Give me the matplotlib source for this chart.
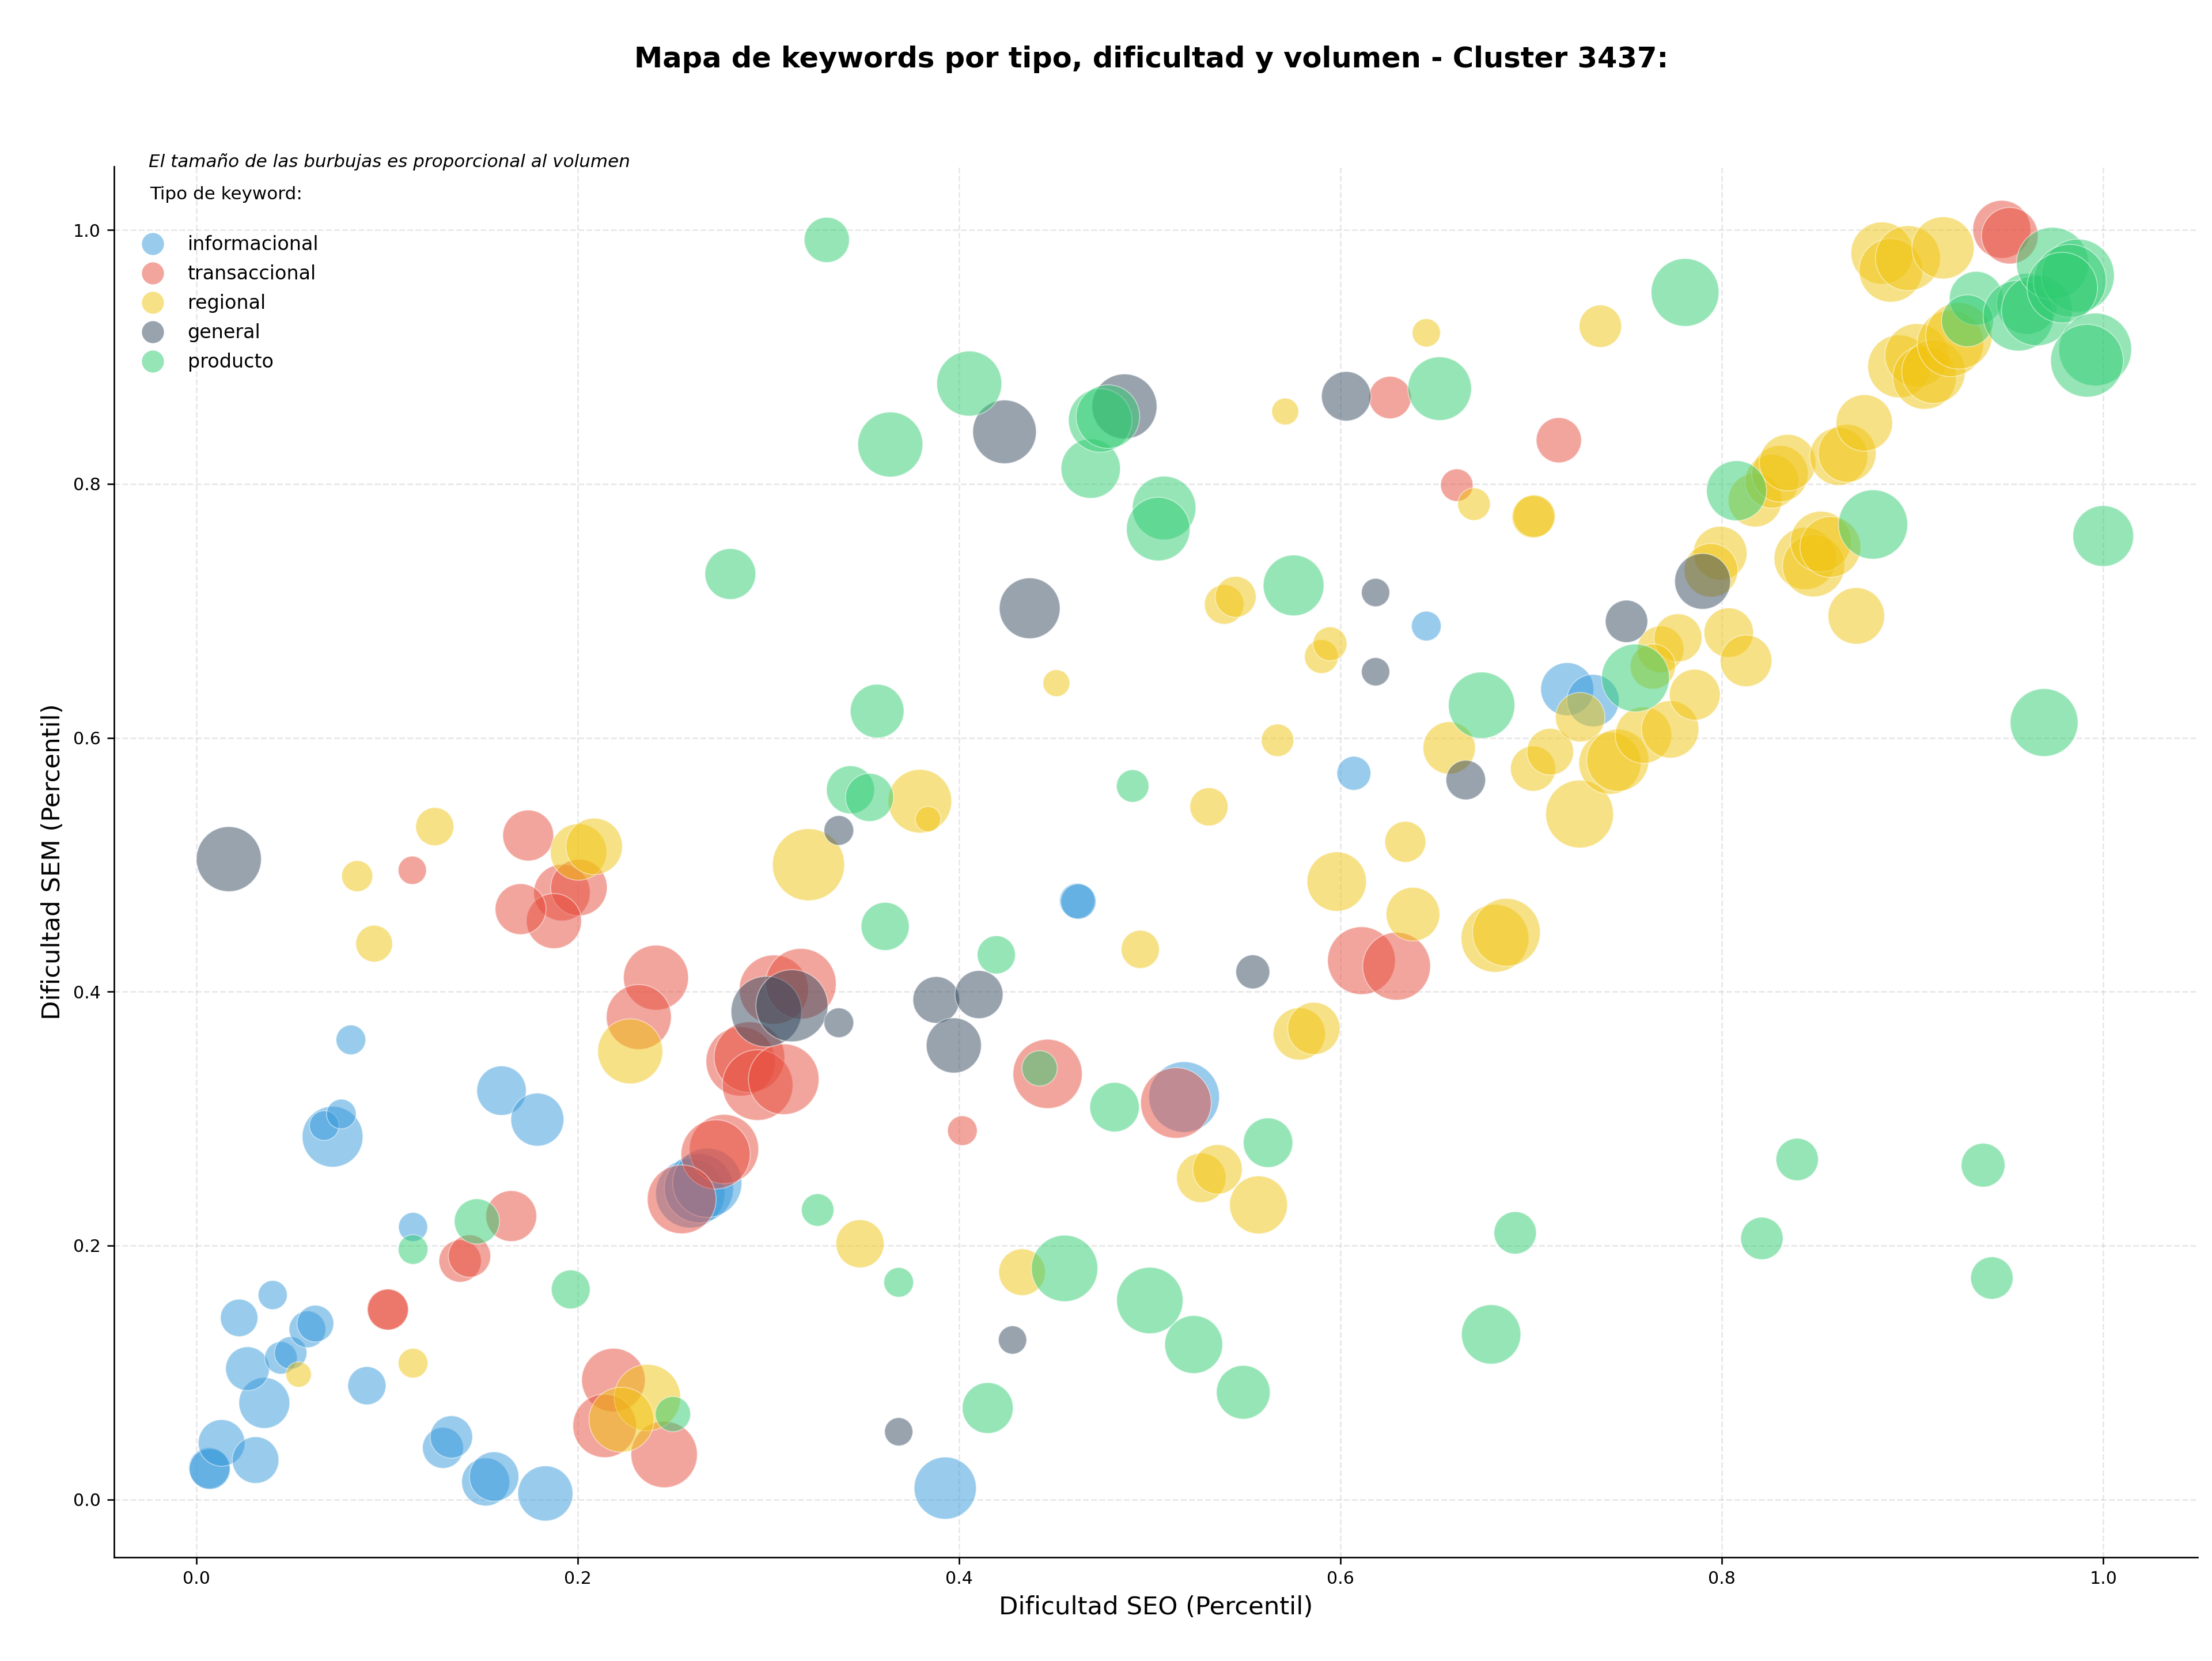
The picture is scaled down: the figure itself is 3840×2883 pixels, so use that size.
"""Mapa de burbujas de keywords por tipo, dificultad y volumen."""

import matplotlib

matplotlib.use("Agg")

import matplotlib.pyplot as plt
from matplotlib.lines import Line2D

# informacional
info_x = [0.0067, 0.0070, 0.0132, 0.0310, 0.0356, 0.0268, 0.0224, 0.0400, 0.0443, 0.0494, 0.0582, 0.0624,
          0.0894, 0.1293, 0.1337, 0.1517, 0.1561, 0.1830, 0.1136, 0.0714, 0.0670, 0.0760, 0.1600, 0.1788,
          0.0810, 0.2590, 0.2635, 0.2679, 0.4619, 0.4625, 0.5180, 0.3927, 0.7189, 0.7324, 0.6450, 0.6070]
info_y = [0.0247, 0.0240, 0.0445, 0.0310, 0.0760, 0.1030, 0.1430, 0.1610, 0.1115, 0.1154, 0.1340, 0.1385,
          0.0896, 0.0406, 0.0492, 0.0138, 0.0180, 0.0047, 0.2146, 0.2857, 0.2945, 0.3036, 0.3220, 0.2992,
          0.3620, 0.2411, 0.2451, 0.2494, 0.4715, 0.4710, 0.3170, 0.0089, 0.6383, 0.6293, 0.6880, 0.5720]
info_vol = [841, 841, 1089, 1089, 1296, 961, 702, 424, 529, 529, 676, 676,
            729, 841, 900, 1156, 1225, 1521, 424, 1849, 441, 441, 1225, 1406,
            441, 2401, 2401, 2401, 625, 625, 2500, 1936, 1406, 1369, 441, 576]

# transaccional
trans_x = [0.1002, 0.1005, 0.1383, 0.1432, 0.1651, 0.2187, 0.2141, 0.2453, 0.1740, 0.1917, 0.2006, 0.1875,
           0.1700, 0.2410, 0.2320, 0.3028, 0.3170, 0.2854, 0.2900, 0.2943, 0.3080, 0.2767, 0.2723, 0.2545,
           0.4464, 0.4017, 0.1132, 0.6260, 0.6610, 0.7145, 0.6110, 0.6294, 0.5137, 0.9468, 0.9510]
trans_y = [0.1497, 0.1495, 0.1878, 0.1917, 0.2232, 0.0940, 0.0580, 0.0354, 0.5230, 0.4780, 0.4820, 0.4556,
           0.4650, 0.4110, 0.3800, 0.4016, 0.4062, 0.3450, 0.3484, 0.3264, 0.3310, 0.2760, 0.2718, 0.2364,
           0.3352, 0.2905, 0.4956, 0.8680, 0.7990, 0.8344, 0.4244, 0.4200, 0.3123, 1.0005, 0.9955]
trans_vol = [841, 841, 900, 900, 1296, 2025, 2025, 2209, 1296, 1600, 1600, 1521,
             1296, 2116, 2116, 2401, 2500, 2401, 2500, 2500, 2500, 2401, 2401, 2372,
             2401, 441, 400, 900, 529, 1024, 2304, 2304, 2500, 1681, 1600]

# regional
reg_x = [0.2365, 0.2229, 0.0536, 0.1136, 0.0843, 0.0932, 0.1250, 0.2004, 0.2086, 0.2275, 0.3210, 0.3794,
         0.3837, 0.3480, 0.4330, 0.4950, 0.4510, 0.5310, 0.5390, 0.5450, 0.5710, 0.5670, 0.5900, 0.5945,
         0.5980, 0.6340, 0.6380, 0.6810, 0.6870, 0.5784, 0.5860, 0.5570, 0.5270, 0.5355, 0.6450, 0.6700,
         0.7010, 0.7015, 0.6570, 0.7010, 0.7100, 0.7257, 0.7254, 0.7413, 0.7454, 0.7589, 0.7729, 0.7858,
         0.7679, 0.7770, 0.8036, 0.8127, 0.7363, 0.7991, 0.7943, 0.8174, 0.8262, 0.8305, 0.8345, 0.8613,
         0.8657, 0.8747, 0.8437, 0.8481, 0.8519, 0.8569, 0.8705, 0.8840, 0.8886, 0.8976, 0.9160, 0.8930,
         0.9022, 0.9063, 0.9110, 0.9199, 0.9243, 0.7638]
reg_y = [0.0802, 0.0628, 0.0984, 0.1073, 0.4910, 0.4378, 0.5300, 0.5100, 0.5144, 0.3530, 0.5000, 0.5500,
         0.5359, 0.2014, 0.1790, 0.4333, 0.6430, 0.5456, 0.7050, 0.7110, 0.8570, 0.5980, 0.6640, 0.6740,
         0.4867, 0.5180, 0.4610, 0.4420, 0.4467, 0.3667, 0.3710, 0.2320, 0.2533, 0.2600, 0.9190, 0.7840,
         0.7740, 0.7745, 0.5920, 0.5757, 0.5890, 0.6162, 0.5399, 0.5800, 0.5823, 0.6021, 0.6066, 0.6339,
         0.6697, 0.6787, 0.6828, 0.6606, 0.9242, 0.7454, 0.7319, 0.7872, 0.8020, 0.8080, 0.8167, 0.8216,
         0.8241, 0.8480, 0.7412, 0.7355, 0.7545, 0.7503, 0.6960, 0.9818, 0.9682, 0.9778, 0.9859, 0.8926,
         0.9012, 0.8838, 0.8884, 0.9106, 0.9166, 0.6561]
reg_vol = [2209, 2116, 324, 441, 484, 676, 729, 1600, 1600, 2116, 2601, 2025,
           324, 1156, 1089, 729, 361, 729, 784, 841, 361, 529, 576, 576,
           1764, 841, 1444, 2304, 2304, 1369, 1369, 1681, 1225, 1225, 400, 529,
           900, 900, 1369, 1024, 1089, 1225, 2304, 1936, 1936, 1600, 1648, 1296,
           1089, 1156, 1225, 1332, 900, 1444, 1444, 1444, 1444, 1600, 1600, 1681,
           1681, 1600, 1936, 1936, 1849, 1849, 1600, 1936, 2025, 2116, 1936, 1980,
           2025, 2025, 2025, 2209, 2209, 1024]

# general
gen_x = [0.0170, 0.2989, 0.3123, 0.3369, 0.3369, 0.3880, 0.4104, 0.3972, 0.3683, 0.4280,
         0.4370, 0.4238, 0.4867, 0.5540, 0.6030, 0.6184, 0.6184, 0.6657, 0.7500, 0.7899]
gen_y = [0.5044, 0.3843, 0.3889, 0.3755, 0.5270, 0.3935, 0.3977, 0.3576, 0.0533, 0.1256,
         0.7020, 0.8410, 0.8610, 0.4156, 0.8690, 0.7144, 0.6520, 0.5667, 0.6917, 0.7232]
gen_vol = [2116, 2500, 2601, 441, 441, 1089, 1156, 1521, 400, 400,
           1849, 2025, 2116, 576, 1225, 400, 400, 784, 900, 1560]

# producto
prod_x = [0.2499, 0.1136, 0.1471, 0.1963, 0.3258, 0.3683, 0.3612, 0.4195, 0.4422, 0.4553, 0.4150, 0.5000,
          0.5230, 0.5490, 0.4815, 0.5620, 0.3306, 0.4053, 0.3639, 0.2800, 0.3570, 0.3430, 0.3530, 0.4910,
          0.4690, 0.4740, 0.4780, 0.5075, 0.5044, 0.5754, 0.6520, 0.6740, 0.6790, 0.6916, 0.7547,
          0.7807, 0.8077, 0.8793, 0.8210, 0.8395, 0.9370, 0.9416, 0.9690, 1.0000, 0.9334, 0.9288, 0.9600,
          0.9555, 0.9652, 0.9734, 0.9867, 0.9825, 0.9785, 0.9958, 0.9915]
prod_y = [0.0672, 0.1969, 0.2190, 0.1654, 0.2280, 0.1710, 0.4514, 0.4290, 0.3396, 0.1820, 0.0720, 0.1567,
          0.1220, 0.0844, 0.3090, 0.2810, 0.9922, 0.8790, 0.8310, 0.7290, 0.6210, 0.5590, 0.5530, 0.5620,
          0.8120, 0.8500, 0.8530, 0.7810, 0.7644, 0.7200, 0.8750, 0.6256, 0.1300, 0.2100, 0.6471,
          0.9508, 0.7946, 0.7680, 0.2056, 0.2678, 0.2633, 0.1744, 0.6120, 0.7589, 0.9462, 0.9285, 0.9419,
          0.9325, 0.9366, 0.9737, 0.9641, 0.9600, 0.9546, 0.9059, 0.8970]
prod_vol = [625, 441, 1024, 756, 529, 441, 1156, 729, 625, 2209, 1296, 2209,
            1681, 1444, 1225, 1225, 1024, 2116, 2116, 1296, 1444, 1156, 1156, 529,
            1764, 2025, 2025, 2025, 2025, 1849, 2025, 2209, 1764, 900, 2304,
            2304, 1806, 2401, 900, 900, 961, 900, 2304, 1849, 1444, 1347, 1849,
            2500, 2500, 2601, 2663, 2652, 2500, 2652, 2652]

SERIES = [
    ("informacional", "#3498db", info_x, info_y, info_vol),
    ("transaccional", "#e74c3c", trans_x, trans_y, trans_vol),
    ("regional", "#f1c40f", reg_x, reg_y, reg_vol),
    ("general", "#34495e", gen_x, gen_y, gen_vol),
    ("producto", "#2ecc71", prod_x, prod_y, prod_vol),
]
SIZE_SCALE = 0.54

fig = plt.figure(figsize=(16, 12.0125), dpi=240)
ax = fig.add_axes([198 / 3840, 1 - 2703 / 2883, (3815 - 198) / 3840, (2703 - 289) / 2883])

for name, color, xs, ys, vols in SERIES:
    ax.scatter(xs, ys, s=[v * SIZE_SCALE for v in vols], c=color, alpha=0.5,
               edgecolors="white", linewidths=0.5, zorder=3)

ax.set_xlim(-0.0432, 1.0495)
ax.set_ylim(-0.0456, 1.05)
ax.spines["top"].set_visible(False)
ax.spines["right"].set_visible(False)
ax.grid(True, linestyle="--", alpha=0.3)
ax.set_axisbelow(True)
ax.tick_params(labelsize=9)
ax.set_xlabel("Dificultad SEO (Percentil)", fontsize=13)
ax.set_ylabel("Dificultad SEM (Percentil)", fontsize=13)

handles = [
    Line2D([], [], marker="o", linestyle="", color=color, alpha=0.5, markersize=11.5, markeredgewidth=0)
    for _, color, *_ in SERIES
]
ax.legend(handles, [s[0] for s in SERIES], loc="upper left", bbox_to_anchor=(0.001, 0.963),
          frameon=False, fontsize=10, labelspacing=0.54, handletextpad=0.82)
fig.text(258 / 3840, 1 - 281 / 2883, "El tamaño de las burbujas es proporcional al volumen",
         fontsize=9.3, style="italic", va="center")
fig.text(260 / 3840, 1 - 337 / 2883, "Tipo de keyword:", fontsize=9.3, va="center")
fig.text(0.5205, 1 - 103 / 2883, "Mapa de keywords por tipo, dificultad y volumen - Cluster 3437:",
         fontsize=14.85, fontweight="bold", ha="center", va="center")

fig.savefig("out.png", dpi=240)
plt.close(fig)
